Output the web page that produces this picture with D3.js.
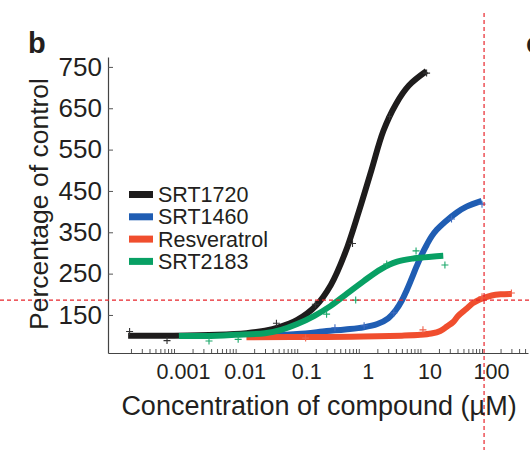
<!DOCTYPE html>
<html>
<head>
<meta charset="utf-8">
<script src="https://cdn.jsdelivr.net/npm/d3@7/dist/d3.min.js"></script>
<style>
  html, body { margin: 0; padding: 0; background: #fff; }
  svg { display: block; }
  text { font-family: "Liberation Sans", Arial, Helvetica, sans-serif; fill: #231f20; }
</style>
</head>
<body>
<svg id="chart" width="530" height="450"></svg>
<script>
// ---------- data ----------
const seriesNames = ["SRT1720", "SRT1460", "Resveratrol", "SRT2183"];
const seriesColors = ["#1e1c1c", "#1f5db3", "#f04e2e", "#08a064"];
const markerColors = ["#333333", "#3f6cc0", "#f0604a", "#1aa86a"];

// fitted curves: concentration (µM) and % of control
const srt1720CurveX = [0.00018, 0.001, 0.005, 0.015, 0.03, 0.05, 0.1, 0.2, 0.35, 0.6, 1.0, 1.6, 2.5, 4, 6.5, 12.6];
const srt1720CurveY = [100, 100, 102, 106, 112, 120, 138, 172, 222, 300, 400, 500, 595, 660, 705, 740];

const srt1460CurveX = [0.02, 0.1, 0.3, 0.6, 1.2, 2, 3, 4, 5, 6, 7.2, 8.7, 10.5, 12.7, 15.2, 18.4, 25, 39, 56, 99];
const srt1460CurveY = [100, 104, 111, 115, 120, 128, 142, 162, 185, 210, 238, 268, 296, 320, 340, 356, 375, 398, 412, 426];

const resvCurveX = [0.015, 0.3, 1.2, 5, 10, 15, 21, 27, 34, 41, 56, 70, 90, 144, 200, 303];
const resvCurveY = [96, 97, 98, 100, 102, 105, 111, 122, 133, 148, 165, 178, 187, 197, 200, 201];

const srt2183CurveX = [0.0012, 0.005, 0.01, 0.03, 0.055, 0.1, 0.19, 0.35, 0.65, 1.2, 2.3, 4.2, 8, 15, 23.5];
const srt2183CurveY = [99, 100, 102, 106, 114, 128, 148, 172, 202, 232, 261, 279, 287, 291, 293];

// measured points (+ markers)
const srt1720PointsX = [0.00019, 0.00077, 0.046, 0.197, 0.79, 3.15, 12.6];
const srt1720PointsY = [110, 88, 130, 176, 323, 630, 735];
const srt1460PointsX = [0.41, 1.22, 3.7, 32, 100];
const srt1460PointsY = [119, 124, 155, 382, 418];
const resvPointsX = [0.137, 11, 100, 300];
const resvPointsY = [94, 114, 194, 203];
const srt2183PointsX = [0.0037, 0.011, 0.30, 0.89, 2.84, 8.5, 25];
const srt2183PointsY = [87, 91, 152, 186, 273, 305, 271];

const yTickValues = [150, 250, 350, 450, 550, 650, 750];
const xDecadeValues = [0.001, 0.01, 0.1, 1, 10, 100];
const xDecadeLabels = ["0.001", "0.01", "0.1", "1", "10", "100"];

const refLineValue = 186;   // horizontal red dashed line (% of control)
const refLineConc = 108;    // vertical red dashed line (µM)

const xTitle = "Concentration of compound (\u00b5M)";
const yTitle = "Percentage of control";
const panelLabel = "b";
const nextPanelLabel = "c";

// ---------- drawing ----------
const svg = d3.select("#chart");
const x = d3.scaleLog().domain([8.48e-5, 558]).range([108, 528]);
const y = d3.scaleLinear().domain([58, 774]).range([353, 57]);

// minor log ticks
const xTickValues = [];
[1e-4, 1e-3, 1e-2, 1e-1, 1, 10, 100].forEach(dec => {
  for (let m = 1; m <= 9; m++) {
    const v = +(dec * m).toPrecision(6);
    if (v >= 2e-4 && v <= 500) xTickValues.push(v);
  }
});

const xAxis = d3.axisBottom(x)
  .tickValues(xTickValues)
  .tickSize(-4)
  .tickSizeOuter(0)
  .tickPadding(11)
  .tickFormat(d => {
    const i = xDecadeValues.findIndex(v => Math.abs(Math.log10(v) - Math.log10(d)) < 1e-6);
    return i >= 0 ? xDecadeLabels[i] : "";
  });

const gx = svg.append("g").attr("transform", "translate(0,353)").call(xAxis);
gx.select(".domain").attr("stroke", "#444").attr("stroke-width", 1.2);
gx.selectAll(".tick line").attr("stroke", "#555").attr("stroke-width", 1);
gx.selectAll(".tick text").attr("font-size", 21.5).attr("dx", 9).attr("fill", "#231f20")
  .style("font-family", "'Liberation Sans', Arial, sans-serif");

const yAxis = d3.axisLeft(y)
  .tickValues(yTickValues)
  .tickSize(-5)
  .tickSizeOuter(0)
  .tickPadding(6);
const gy = svg.append("g").attr("transform", "translate(108,0)").call(yAxis);
gy.select(".domain").attr("stroke", "#444").attr("stroke-width", 1.2);
gy.selectAll(".tick line").attr("stroke", "#555").attr("stroke-width", 1);
gy.selectAll(".tick text").attr("font-size", 26).attr("fill", "#231f20")
  .style("font-family", "'Liberation Sans', Arial, sans-serif");

// curves
const curves = [
  { xs: srt1720CurveX, ys: srt1720CurveY, c: 0 },
  { xs: srt1460CurveX, ys: srt1460CurveY, c: 1 },
  { xs: resvCurveX, ys: resvCurveY, c: 2 },
  { xs: srt2183CurveX, ys: srt2183CurveY, c: 3 }
];
const line = d3.line().x(d => x(d[0])).y(d => y(d[1])).curve(d3.curveCatmullRom.alpha(0.5));
curves.forEach(s => {
  const pts = s.xs.map((v, i) => [v, s.ys[i]]);
  svg.append("path").datum(pts)
    .attr("d", line)
    .attr("fill", "none")
    .attr("stroke", seriesColors[s.c])
    .attr("stroke-width", 6)
    .attr("stroke-linecap", "butt")
    .attr("stroke-linejoin", "round");
});

// markers
const points = [
  { xs: srt1720PointsX, ys: srt1720PointsY, c: 0 },
  { xs: srt1460PointsX, ys: srt1460PointsY, c: 1 },
  { xs: resvPointsX, ys: resvPointsY, c: 2 },
  { xs: srt2183PointsX, ys: srt2183PointsY, c: 3 }
];
points.forEach(s => {
  s.xs.forEach((v, i) => {
    const px = x(v), py = y(s.ys[i]);
    svg.append("path")
      .attr("d", `M${px - 3.5},${py}H${px + 3.5}M${px},${py - 3.5}V${py + 3.5}`)
      .attr("stroke", markerColors[s.c])
      .attr("stroke-width", 1.1)
      .attr("fill", "none");
  });
});

// red dashed reference lines
svg.append("line")
  .attr("x1", 0).attr("x2", 530)
  .attr("y1", y(refLineValue)).attr("y2", y(refLineValue))
  .attr("stroke", "#e8252b").attr("stroke-width", 1.2).attr("stroke-dasharray", "4,3");
svg.append("line")
  .attr("x1", x(refLineConc)).attr("x2", x(refLineConc))
  .attr("y1", 13).attr("y2", 450)
  .attr("stroke", "#e8252b").attr("stroke-width", 1.2).attr("stroke-dasharray", "4,3");

// legend
const legend = svg.append("g");
seriesNames.forEach((name, i) => {
  const cy = 194.5 + i * 22.3;
  legend.append("rect")
    .attr("x", 129).attr("y", cy - 3.5).attr("width", 24).attr("height", 7)
    .attr("fill", seriesColors[i]);
  legend.append("text")
    .attr("x", 158).attr("y", cy + 7.6)
    .attr("font-size", 21.5)
    .text(name);
});

// titles
svg.append("text")
  .attr("x", 319).attr("y", 415)
  .attr("text-anchor", "middle")
  .attr("font-size", 27)
  .text(xTitle);
svg.append("text")
  .attr("transform", "translate(48,204) rotate(-90)")
  .attr("text-anchor", "middle")
  .attr("font-size", 26.5)
  .text(yTitle);
svg.append("text")
  .attr("x", 28).attr("y", 53)
  .attr("font-size", 29).attr("font-weight", "bold")
  .text(panelLabel);
svg.append("text")
  .attr("x", 526).attr("y", 53)
  .attr("font-size", 29).attr("font-weight", "bold")
  .text(nextPanelLabel);
</script>
</body>
</html>
